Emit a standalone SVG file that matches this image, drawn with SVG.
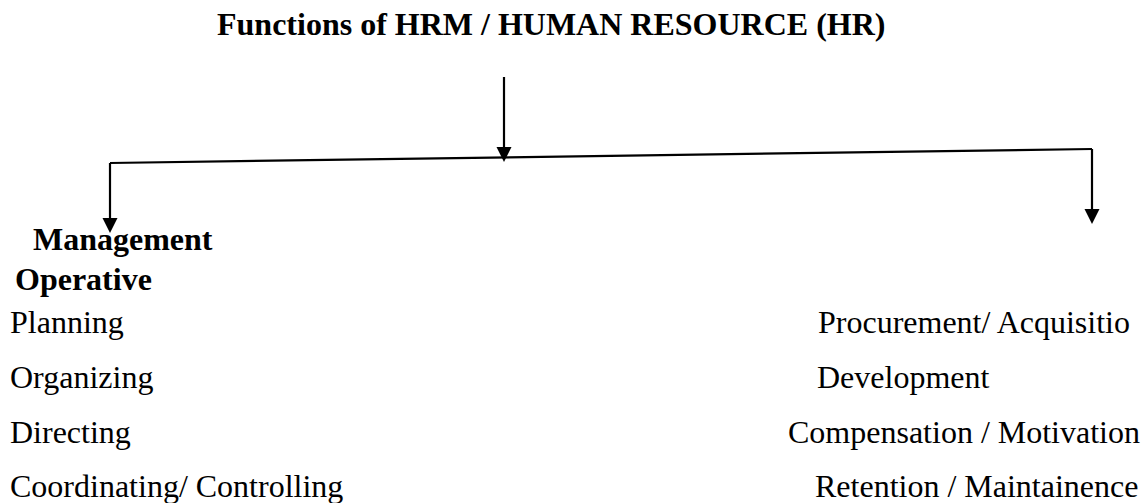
<svg xmlns="http://www.w3.org/2000/svg" width="1141" height="503" viewBox="0 0 1141 503">
<style>
text{font-family:"Liberation Serif","Times New Roman",serif;font-size:32px;fill:#000}
.b{font-weight:bold}
.ln{stroke:#000;stroke-width:2.2;fill:none}
.hd{fill:#000}
</style>
<rect width="1141" height="503" fill="#fff"/>
<g id="title"><text class="b" x="217" y="35">Functions of HRM / HUMAN RESOURCE (HR)</text></g>
<g id="connectors">
<line class="ln" x1="504" y1="77" x2="504" y2="148"/>
<path class="hd" d="M496.5,147 L511.5,147 L504,162 Z"/>
<line class="ln" x1="110" y1="163" x2="1092" y2="149"/>
<line class="ln" x1="110" y1="163" x2="110" y2="219"/>
<path class="hd" d="M102.5,218 L117.5,218 L110,233 Z"/>
<line class="ln" x1="1092" y1="149" x2="1092" y2="210"/>
<path class="hd" d="M1084.5,209 L1099.5,209 L1092,224 Z"/>
</g>
<g id="management"><text class="b" x="33" y="250">Management</text></g>
<g id="operative"><text class="b" x="15" y="290">Operative</text></g>
<g id="management-functions">
<text x="10" y="333">Planning</text>
<text x="10" y="388">Organizing</text>
<text x="10" y="443">Directing</text>
<text x="10" y="497">Coordinating/ Controlling</text>
</g>
<g id="operative-functions">
<text x="818" y="333">Procurement/ Acquisitio</text>
<text x="817" y="388">Development</text>
<text x="788" y="443">Compensation / Motivation</text>
<text x="815" y="497">Retention / Maintainence</text>
</g>
</svg>
